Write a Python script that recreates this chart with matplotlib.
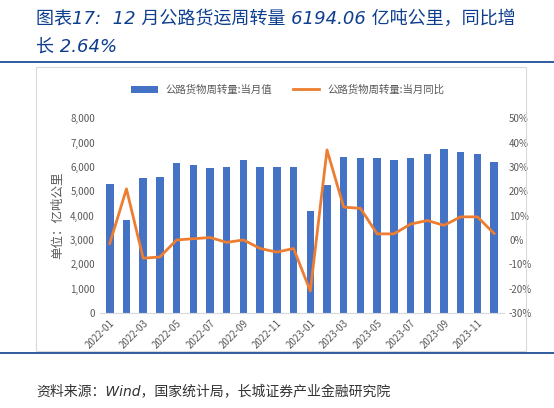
import numpy as np
import matplotlib
matplotlib.use('Agg')
import matplotlib.pyplot as plt

plt.rcParams['font.family'] = ['Noto Sans CJK SC', 'DejaVu Sans']

months = ['2022-01', '2022-02', '2022-03', '2022-04', '2022-05', '2022-06', '2022-07', '2022-08',
          '2022-09', '2022-10', '2022-11', '2022-12', '2023-01', '2023-02', '2023-03', '2023-04',
          '2023-05', '2023-06', '2023-07', '2023-08', '2023-09', '2023-10', '2023-11', '2023-12']
volume = [5300, 3800, 5550, 5600, 6150, 6100, 5950, 6000, 6300, 6000, 5980, 6000,
          4200, 5250, 6400, 6350, 6350, 6300, 6350, 6550, 6750, 6600, 6550, 6194.06]
yoy = [-1.5, 21, -7.5, -7, 0, 0.5, 1, -1, 0, -3.5, -5, -3.5,
       -21, 37, 13.5, 13, 2.5, 2.5, 6.5, 8, 6, 9.5, 9.5, 2.64]

title_color = '#0E3F8F'
italic_fam = ['DejaVu Sans', 'Noto Sans CJK SC']
fig = plt.figure(figsize=(5.54, 4.08), dpi=100)
fig.text(0.065, 0.955, '图表17:  12 月公路货运周转量 6194.06 亿吨公里，同比增', fontsize=13,
         style='italic', color=title_color, va='center', family=italic_fam)
fig.text(0.065, 0.885, '长 2.64%', fontsize=13, style='italic', color=title_color, va='center',
         family=italic_fam)
fig.add_artist(plt.Line2D([0.0, 1.0], [0.847, 0.847], color=title_color, lw=1.2))
fig.add_artist(plt.Line2D([0.0, 1.0], [0.135, 0.135], color=title_color, lw=1.2))
fig.add_artist(plt.Rectangle((0.065, 0.14), 0.885, 0.695, fill=False, ec='#D9D9D9', lw=0.8))
fig.text(0.065, 0.03, '资料来源：Wind，国家统计局，长城证券产业金融研究院', fontsize=10,
         style='italic', color='#333333', family=italic_fam)

ax = fig.add_axes([0.18, 0.233, 0.73, 0.477])
x = np.arange(len(months))
ax.bar(x, volume, width=0.45, color='#4472C4', label='公路货物周转量:当月值')
ax.set_ylim(0, 8000)
ax.set_yticks(range(0, 8001, 1000))
ax.set_yticklabels([f'{v:,}' for v in range(0, 8001, 1000)])
ax.set_ylabel('单位：亿吨公里', fontsize=9, color='#595959')
ax.set_xlim(-0.6, len(months) - 0.4)
ax.set_xticks(x[::2])
ax.set_xticklabels(months[::2], rotation=45, ha='right', rotation_mode='anchor')

ax2 = ax.twinx()
ax2.plot(x, yoy, color='#ED7D31', lw=2, label='公路货物周转量:当月同比')
ax2.set_ylim(-30, 50)
ax2.set_yticks(range(-30, 51, 10))
ax2.set_yticklabels([f'{v}%' for v in range(-30, 51, 10)])

for a in (ax, ax2):
    for s in a.spines.values():
        s.set_visible(False)
    a.tick_params(length=0, labelsize=7, colors='#595959')
ax.spines['bottom'].set_visible(True)
ax.spines['bottom'].set_color('#D9D9D9')

h1, l1 = ax.get_legend_handles_labels()
h2, l2 = ax2.get_legend_handles_labels()
fig.legend(h1 + h2, l1 + l2, loc='center', bbox_to_anchor=(0.52, 0.78), ncol=2, frameon=False,
           fontsize=7.5, labelcolor='#595959', handlelength=2.5, columnspacing=2)

fig.savefig('out.png', dpi=100)
